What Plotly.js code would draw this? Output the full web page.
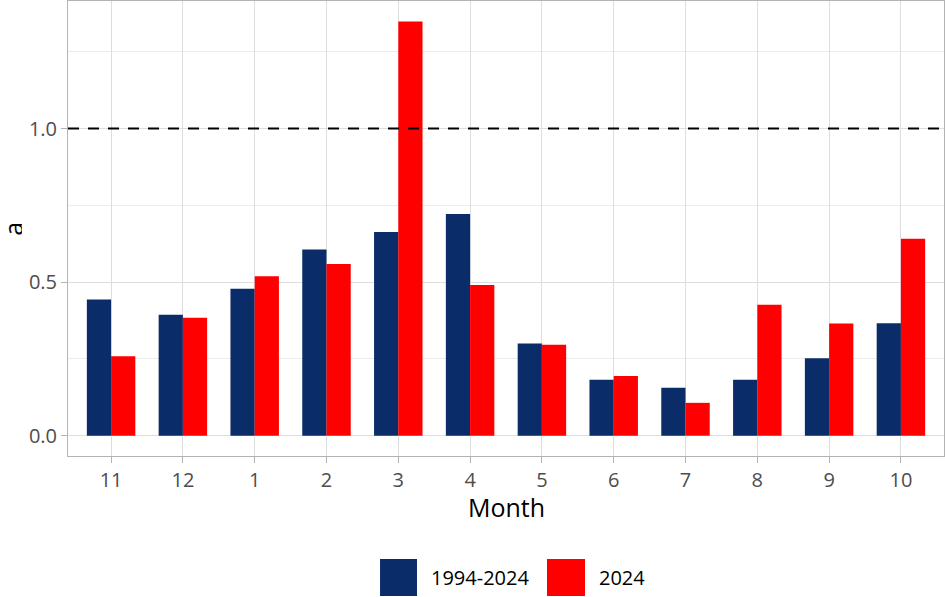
<!DOCTYPE html>
<html>
<head>
<meta charset="utf-8">
<script src="https://cdn.plot.ly/plotly-3.0.1.min.js"></script>
<style>
html,body{margin:0;padding:0;background:#fff;}
#chart{width:945px;height:597px;}
</style>
</head>
<body>
<div id="chart"></div>
<script>
// Data
const months = ["11","12","1","2","3","4","5","6","7","8","9","10"];
const seriesNames = ["1994-2024","2024"];
const seriesColors = ["#0a2d6a","#ff0000"];
const climatology = [0.443,0.394,0.478,0.606,0.663,0.722,0.300,0.182,0.156,0.182,0.252,0.366];
const year2024 = [0.259,0.384,0.519,0.559,1.348,0.491,0.296,0.194,0.107,0.426,0.365,0.641];
const referenceLine = 1.0;
const yTitle = "a";
const xTitle = "Month";

const font = "Open Sans, Noto Sans, DejaVu Sans, sans-serif";

const traces = [climatology, year2024].map((vals, i) => ({
  type: "bar",
  name: seriesNames[i],
  x: months,
  y: vals,
  marker: {color: seriesColors[i], line: {width: 0}},
  showlegend: false,
  hoverinfo: "x+y+name"
}));

// Custom legend (large square keys like ggplot)
const legendKeys = [
  {x0: 0.3562, x1: 0.3984, tx: 0.4121},
  {x0: 0.5468, x1: 0.5902, tx: 0.6039}
];
const shapes = [{
  type: "line", xref: "paper", x0: 0, x1: 1, yref: "y", y0: referenceLine, y1: referenceLine,
  line: {color: "#000", width: 2.2, dash: "11px,9px"}, layer: "above"
}];
const annotations = [
  {xref: "paper", yref: "paper", x: 0.5, y: -0.113, xanchor: "center", yanchor: "middle",
   text: xTitle, showarrow: false, font: {family: font, size: 25, color: "#000"}},
  {xref: "paper", yref: "paper", x: -0.0635, y: 0.5, xanchor: "center", yanchor: "middle",
   text: yTitle, textangle: -90, height: 18, showarrow: false, borderpad: 0,
   font: {family: font, size: 25, color: "#000"}}
];
legendKeys.forEach((k, i) => {
  shapes.push({type: "rect", xref: "paper", yref: "paper", x0: k.x0, x1: k.x1, y0: -0.3077, y1: -0.2264,
    fillcolor: seriesColors[i], line: {width: 0}});
  annotations.push({xref: "paper", yref: "paper", x: k.tx, y: -0.267, xanchor: "left", yanchor: "middle",
    text: seriesNames[i], showarrow: false, font: {family: font, size: 20, color: "#000"}});
});

const layout = {
  width: 945, height: 597,
  margin: {l: 68, r: 1, t: 1, b: 141, pad: 0},
  paper_bgcolor: "#fff", plot_bgcolor: "#fff",
  barmode: "group", bargap: 0.325, bargroupgap: 0,
  font: {family: font},
  xaxis: {
    type: "category", range: [-0.6, 11.6],
    showgrid: true, gridcolor: "#dedede", gridwidth: 1,
    ticks: "outside", ticklen: 6, tickcolor: "#b3b3b3", tickwidth: 1,
    tickfont: {family: font, size: 20, color: "#4d4d4d"},
    showline: true, linecolor: "#b3b3b3", linewidth: 1, mirror: true,
    zeroline: false, fixedrange: true
  },
  yaxis: {
    range: [-0.066, 1.415], tick0: 0, dtick: 0.5, tickformat: ".1f",
    showgrid: true, gridcolor: "#dedede", gridwidth: 1,
    minor: {dtick: 0.25, tick0: 0, showgrid: true, gridcolor: "#ececec", gridwidth: 1},
    ticks: "outside", ticklen: 6, tickcolor: "#b3b3b3", tickwidth: 1,
    tickfont: {family: font, size: 20, color: "#4d4d4d"},
    showline: true, linecolor: "#b3b3b3", linewidth: 1, mirror: true,
    zeroline: false, fixedrange: true
  },
  shapes: shapes,
  annotations: annotations
};

Plotly.newPlot("chart", traces, layout, {displayModeBar: false, staticPlot: true});
</script>
</body>
</html>
